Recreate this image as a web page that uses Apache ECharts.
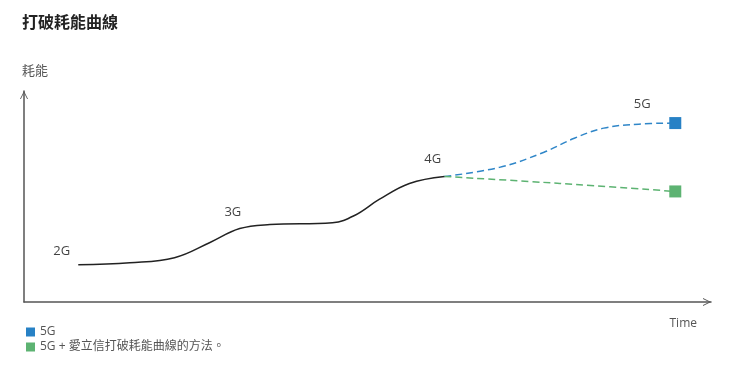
<!DOCTYPE html>
<html>
<head>
<meta charset="utf-8">
<script src="https://cdn.jsdelivr.net/npm/echarts@6/dist/echarts.min.js"></script>
<style>
  html, body { margin: 0; padding: 0; background: #fff; }
  #chart { width: 740px; height: 377px; }
</style>
</head>
<body>
<div id="chart"></div>
<script>
// curve points, x = time (0-100), y = energy (0-100)
var pastCurve = [
  [7.9, 17.6], [15.4, 18.6], [21.9, 21.0], [27.0, 28.1], [31.4, 34.8],
  [35.8, 36.7], [44.9, 37.6], [48.1, 41.0], [51.7, 48.6], [56.1, 56.2], [61.2, 59.5]
];
var curve5G = [
  [61.2, 59.5], [69.2, 63.8], [75.7, 71.0], [80.1, 77.6], [84.4, 82.4], [89.5, 84.3], [94.8, 84.8]
];
var curveEricsson = [
  [61.2, 59.5], [78.0, 56.2], [94.8, 52.4]
];
var genLabels = [
  ["2G", 5.5, 23.8],
  ["3G", 30.4, 42.4],
  ["4G", 59.5, 67.6],
  ["5G", 90.0, 93.8]
];
var legendNames = ["5G", "5G + 愛立信打破耗能曲線的方法。"];

var FONT = '"Open Sans", "Noto Sans CJK TC", sans-serif';
var chevron = 'path://M0,10 L5,0 L10,10 L8.9,10 L5,2.3 L1.1,10 Z';

function endSquare(arr) {
  return arr.map(function (p, i) {
    if (i === arr.length - 1) return { value: p, symbol: 'rect', symbolSize: 12 };
    return { value: p, symbolSize: 0 };
  });
}

var chart = echarts.init(document.getElementById('chart'));
chart.setOption({
  animation: false,
  textStyle: { fontFamily: FONT },
  title: {
    text: '打破耗能曲線',
    left: 17, top: 10,
    textStyle: { fontSize: 16, fontWeight: 'bold', color: '#222', fontFamily: FONT }
  },
  legend: {
    data: legendNames,
    orient: 'vertical',
    left: 21, top: 321,
    icon: 'rect',
    itemWidth: 9, itemHeight: 9,
    itemGap: 3,
    textStyle: { fontSize: 12, color: '#555', fontFamily: FONT }
  },
  grid: { left: 24, right: 29, top: 91, bottom: 75 },
  xAxis: {
    type: 'value', min: 0, max: 100,
    name: 'Time', nameLocation: 'end', nameGap: -14,
    nameTextStyle: { align: 'right', verticalAlign: 'top', padding: [16, 0, 0, 0], fontSize: 12, color: '#555' },
    axisLine: { lineStyle: { color: '#555', width: 1.5 }, symbol: ['none', chevron], symbolSize: [14, 8], symbolOffset: [0, -4] },
    axisTick: { show: false }, axisLabel: { show: false }, splitLine: { show: false }
  },
  yAxis: {
    type: 'value', min: 0, max: 100,
    name: '耗能', nameLocation: 'end', nameGap: 13,
    nameTextStyle: { align: 'left', padding: [0, 0, 0, -2], fontSize: 13, color: '#555' },
    axisLine: { lineStyle: { color: '#555', width: 1.5 }, symbol: ['none', chevron], symbolSize: [14, 8], symbolOffset: [0, -4] },
    axisTick: { show: false }, axisLabel: { show: false }, splitLine: { show: false }
  },
  series: [
    {
      name: 'past', type: 'line', data: pastCurve, smooth: 0.4, symbol: 'none',
      lineStyle: { color: '#222', width: 1.5 }, z: 3
    },
    {
      name: legendNames[0], type: 'line', data: endSquare(curve5G), smooth: 0.4,
      symbol: 'rect', itemStyle: { color: '#2781c5' },
      lineStyle: { color: '#2f86c8', width: 1.5, type: [7, 4] }, z: 2
    },
    {
      name: legendNames[1], type: 'line', data: endSquare(curveEricsson), smooth: 0.3,
      symbol: 'rect', itemStyle: { color: '#5db372' },
      lineStyle: { color: '#5db372', width: 1.5, type: [7, 4] }, z: 2
    },
    {
      name: 'labels', type: 'scatter', symbolSize: 0,
      data: genLabels.map(function (d) { return { name: d[0], value: [d[1], d[2]] }; }),
      label: { show: true, position: 'inside', formatter: '{b}', fontSize: 13, color: '#111', fontFamily: FONT },
      silent: true
    }
  ]
});
</script>
</body>
</html>
